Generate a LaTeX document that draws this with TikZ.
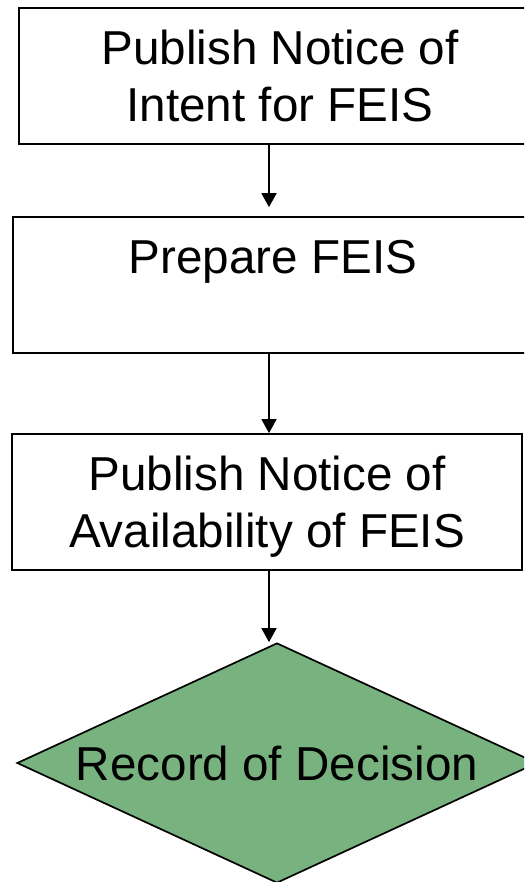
\documentclass[tikz,border=0pt]{standalone}
\usepackage{fontspec}
\setmainfont{Liberation Sans}
\usetikzlibrary{arrows.meta,shapes.geometric}
\definecolor{rodgreen}{RGB}{120,178,126}
\begin{document}
\begin{tikzpicture}[x=1pt,y=-1pt,
  every node/.style={font=\fontsize{47.6}{57}\selectfont},
  box/.style={draw, line width=1.7pt, inner sep=0pt, align=center},
  arr/.style={line width=1.5pt, -{Triangle[width=15pt,length=14pt]}}]
\useasboundingbox (0,0) rectangle (524,882);
\clip (0,0) rectangle (524,882);
\node[box, minimum width=522pt, minimum height=136pt] (b1) at (280,76) {Publish Notice of\\Intent for FEIS};
\node[box, minimum width=520pt, minimum height=136pt] (b2) at (273,285) {Prepare FEIS\\\mbox{}};
\node[box, minimum width=510pt, minimum height=136pt] (b3) at (267,502) {Publish Notice of\\Availabilit\smash{y} of FEIS};
\node[diamond, draw, fill=rodgreen, line width=1.7pt, minimum width=520pt, minimum height=240pt, inner sep=0pt, aspect=2.17] (d) at (277,763) {Record of Decision};
\coordinate (ax) at (269,0);
\draw[arr, shorten >=9pt] (b1.south -| ax) -- (b2.north -| ax);
\draw[arr] (b2.south -| ax) -- (b3.north -| ax);
\draw[arr] (b3.south -| ax) -- (d.north -| ax);
\end{tikzpicture}
\end{document}
